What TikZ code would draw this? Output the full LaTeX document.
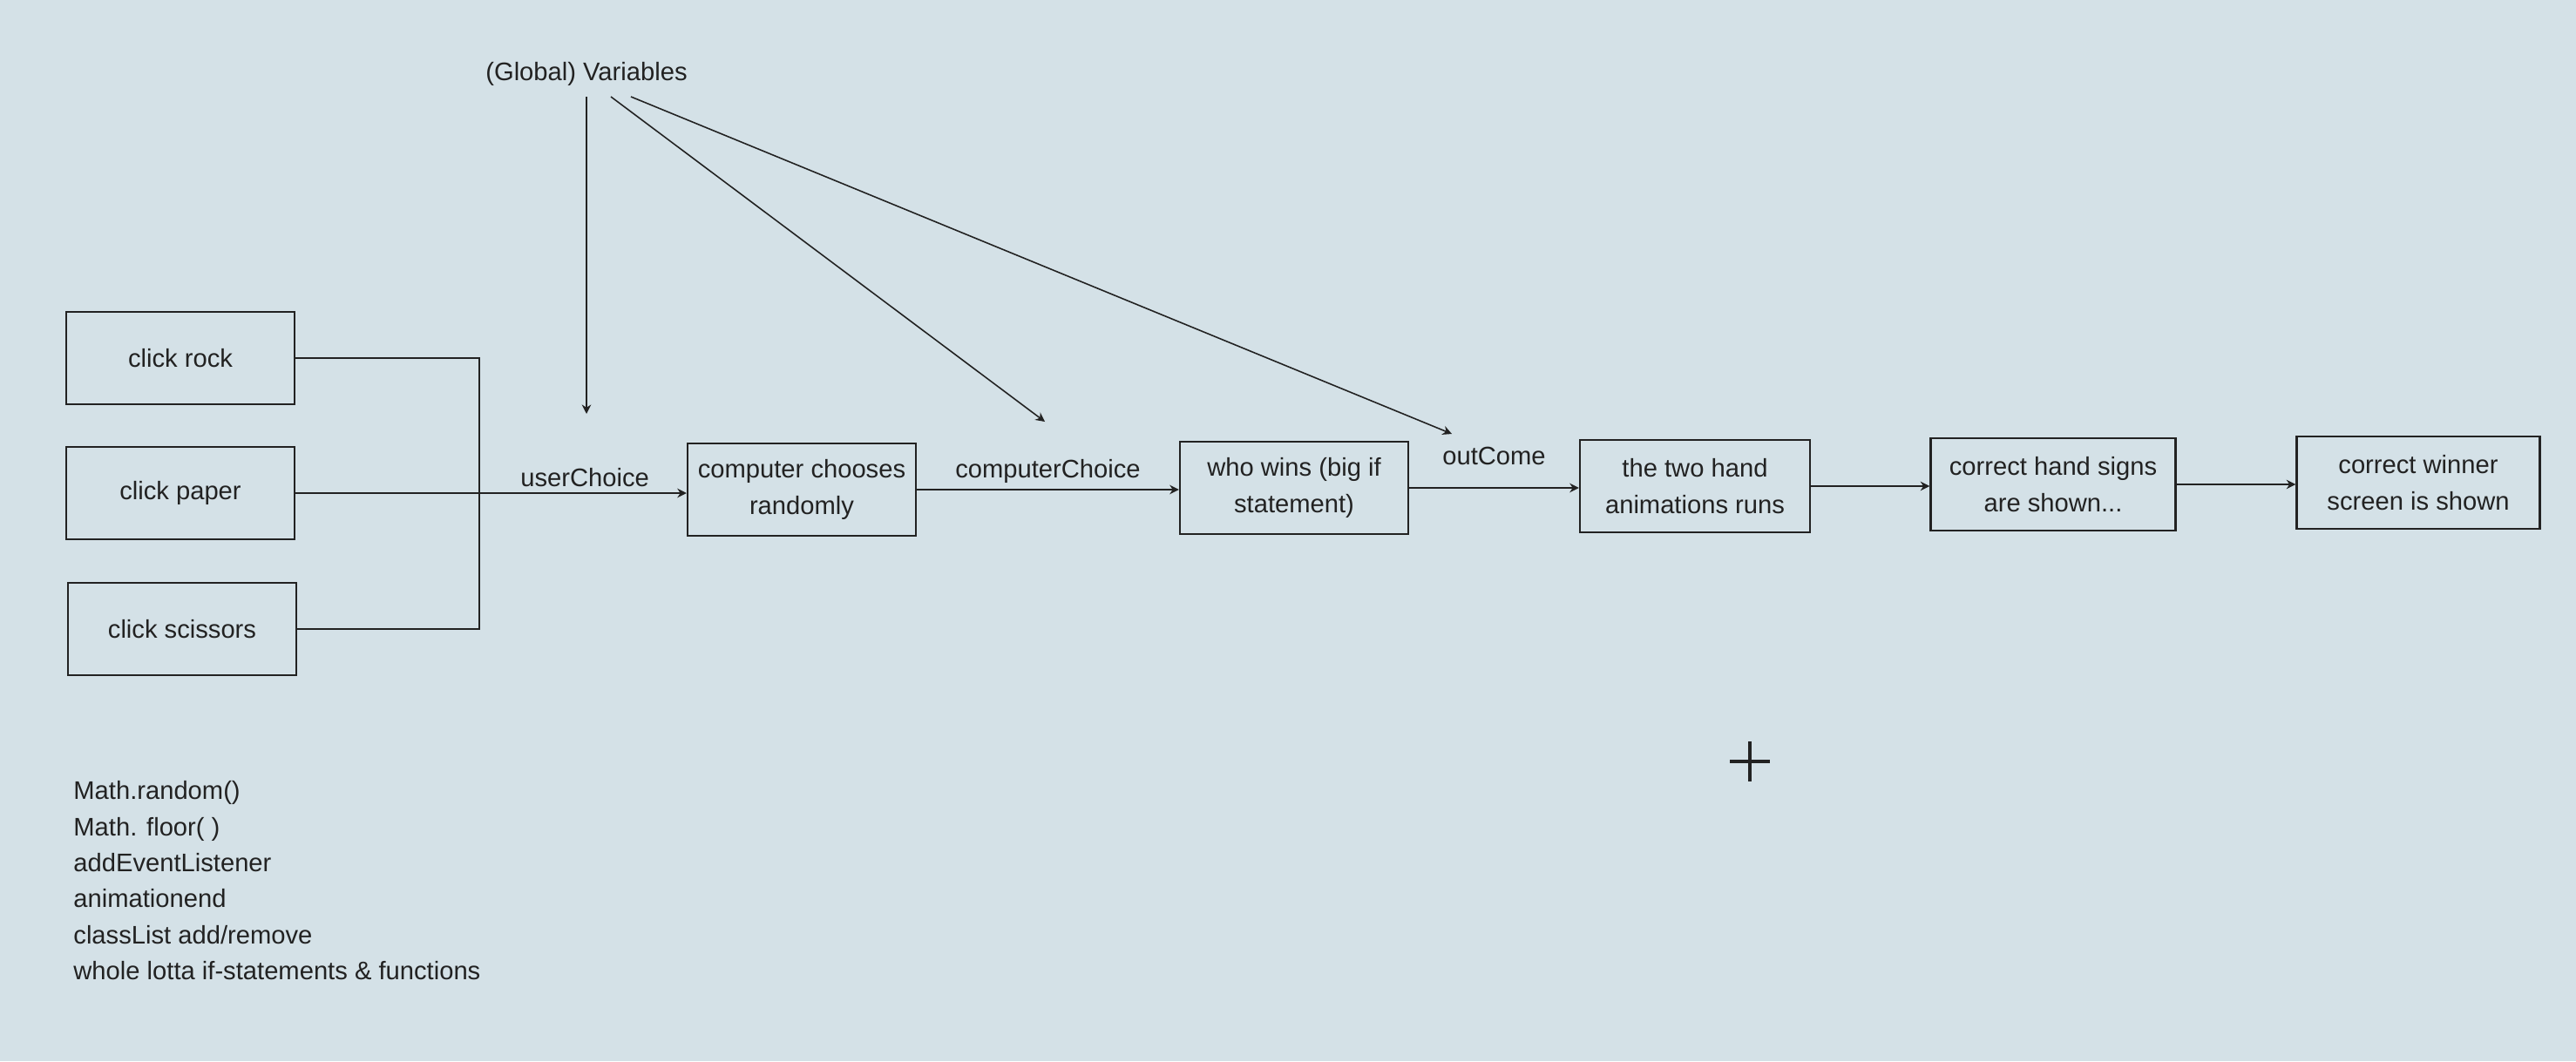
\documentclass[tikz,border=0pt]{standalone}
\usepackage{fontspec}
\setmainfont{Liberation Sans}
\usetikzlibrary{arrows.meta, positioning}
\definecolor{screen}{HTML}{D4E1E7}
\definecolor{ink}{HTML}{222222}
\tikzset{
  stepbox/.style = {draw=ink, line width=0.7pt, minimum width=2.62cm, minimum height=1.06cm,
    align=center, text=ink, font=\fontsize{8.3}{12}\selectfont},
  varlabel/.style = {text=ink, font=\fontsize{8.3}{10}\selectfont},
  link/.style = {draw=ink, line width=0.45pt, -{Stealth[length=3pt, width=3pt]}}
}

\begin{document}
\begin{tikzpicture}

  % Background
  \useasboundingbox (0,0) rectangle (29.56,-12.18);
  \fill[screen] (0,0) rectangle (29.56,-12.18);

  % Clicks
  \node[stepbox] (rock) at (2.07,-4.11) {click rock};
  \node[stepbox] (paper) at (2.07,-5.66) {click paper};
  \node[stepbox] (scissors) at (2.09,-7.22) {click scissors};

  % Steps
  \node[stepbox] (computer) at (9.20,-5.62) {computer chooses\\randomly};
  \node[stepbox] (who) at (14.85,-5.60) {who wins (big if\\statement)};
  \node[stepbox, minimum width=2.64cm] (hand) at (19.45,-5.58) {the two hand\\animations runs};
  \node[stepbox, minimum width=2.81cm] (signs) at (23.56,-5.56) {correct hand signs\\are shown...};
  \node[stepbox, minimum width=2.79cm] (winner) at (27.75,-5.54) {correct winner\\screen is shown};

  % Variables
  \node[varlabel] (vars) at (6.73,-0.85) {(Global) Variables};
  \coordinate (userVar) at (6.73,-4.75);
  \coordinate (computerVar) at (11.99,-4.84);
  \coordinate (outVar) at (16.66,-4.98);
  \draw[link] (vars.south -| userVar) -- (userVar);
  \draw[link] ([xshift=0.28cm]vars.south) -- (computerVar);
  \draw[link] ([xshift=0.51cm]vars.south) -- (outVar);

  % Flow
  \draw[draw=ink, line width=0.45pt] (rock.east) -- ++(2.11,0) |- (scissors.east);
  \draw[link] (paper.east) -- node[varlabel, pos=0.74, above=-1.5pt] {userChoice} (paper.east -| computer.west);
  \draw[link] (computer.east) -- node[varlabel, above=-1.5pt] {computerChoice} (computer.east -| who.west);
  \draw[link] (who.east) -- node[varlabel, above=3.8pt] {outCome} (who.east -| hand.west);
  \draw[link] (hand.east) -- (hand.east -| signs.west);
  \draw[link] (signs.east) -- (signs.east -| winner.west);

  % Notes
  \node[varlabel, anchor=north west, align=left, font=\fontsize{8.3}{11.8}\selectfont] (notes) at (0.72,-8.84)
    {Math.random()\\Math. floor( )\\addEventListener\\animationend\\classList add/remove\\whole lotta if-statements \& functions};

  % Cursor
  \draw[ink, line width=1.1pt] (19.85,-8.74) -- (20.31,-8.74) (20.08,-8.51) -- (20.08,-8.97);

\end{tikzpicture}
\end{document}
